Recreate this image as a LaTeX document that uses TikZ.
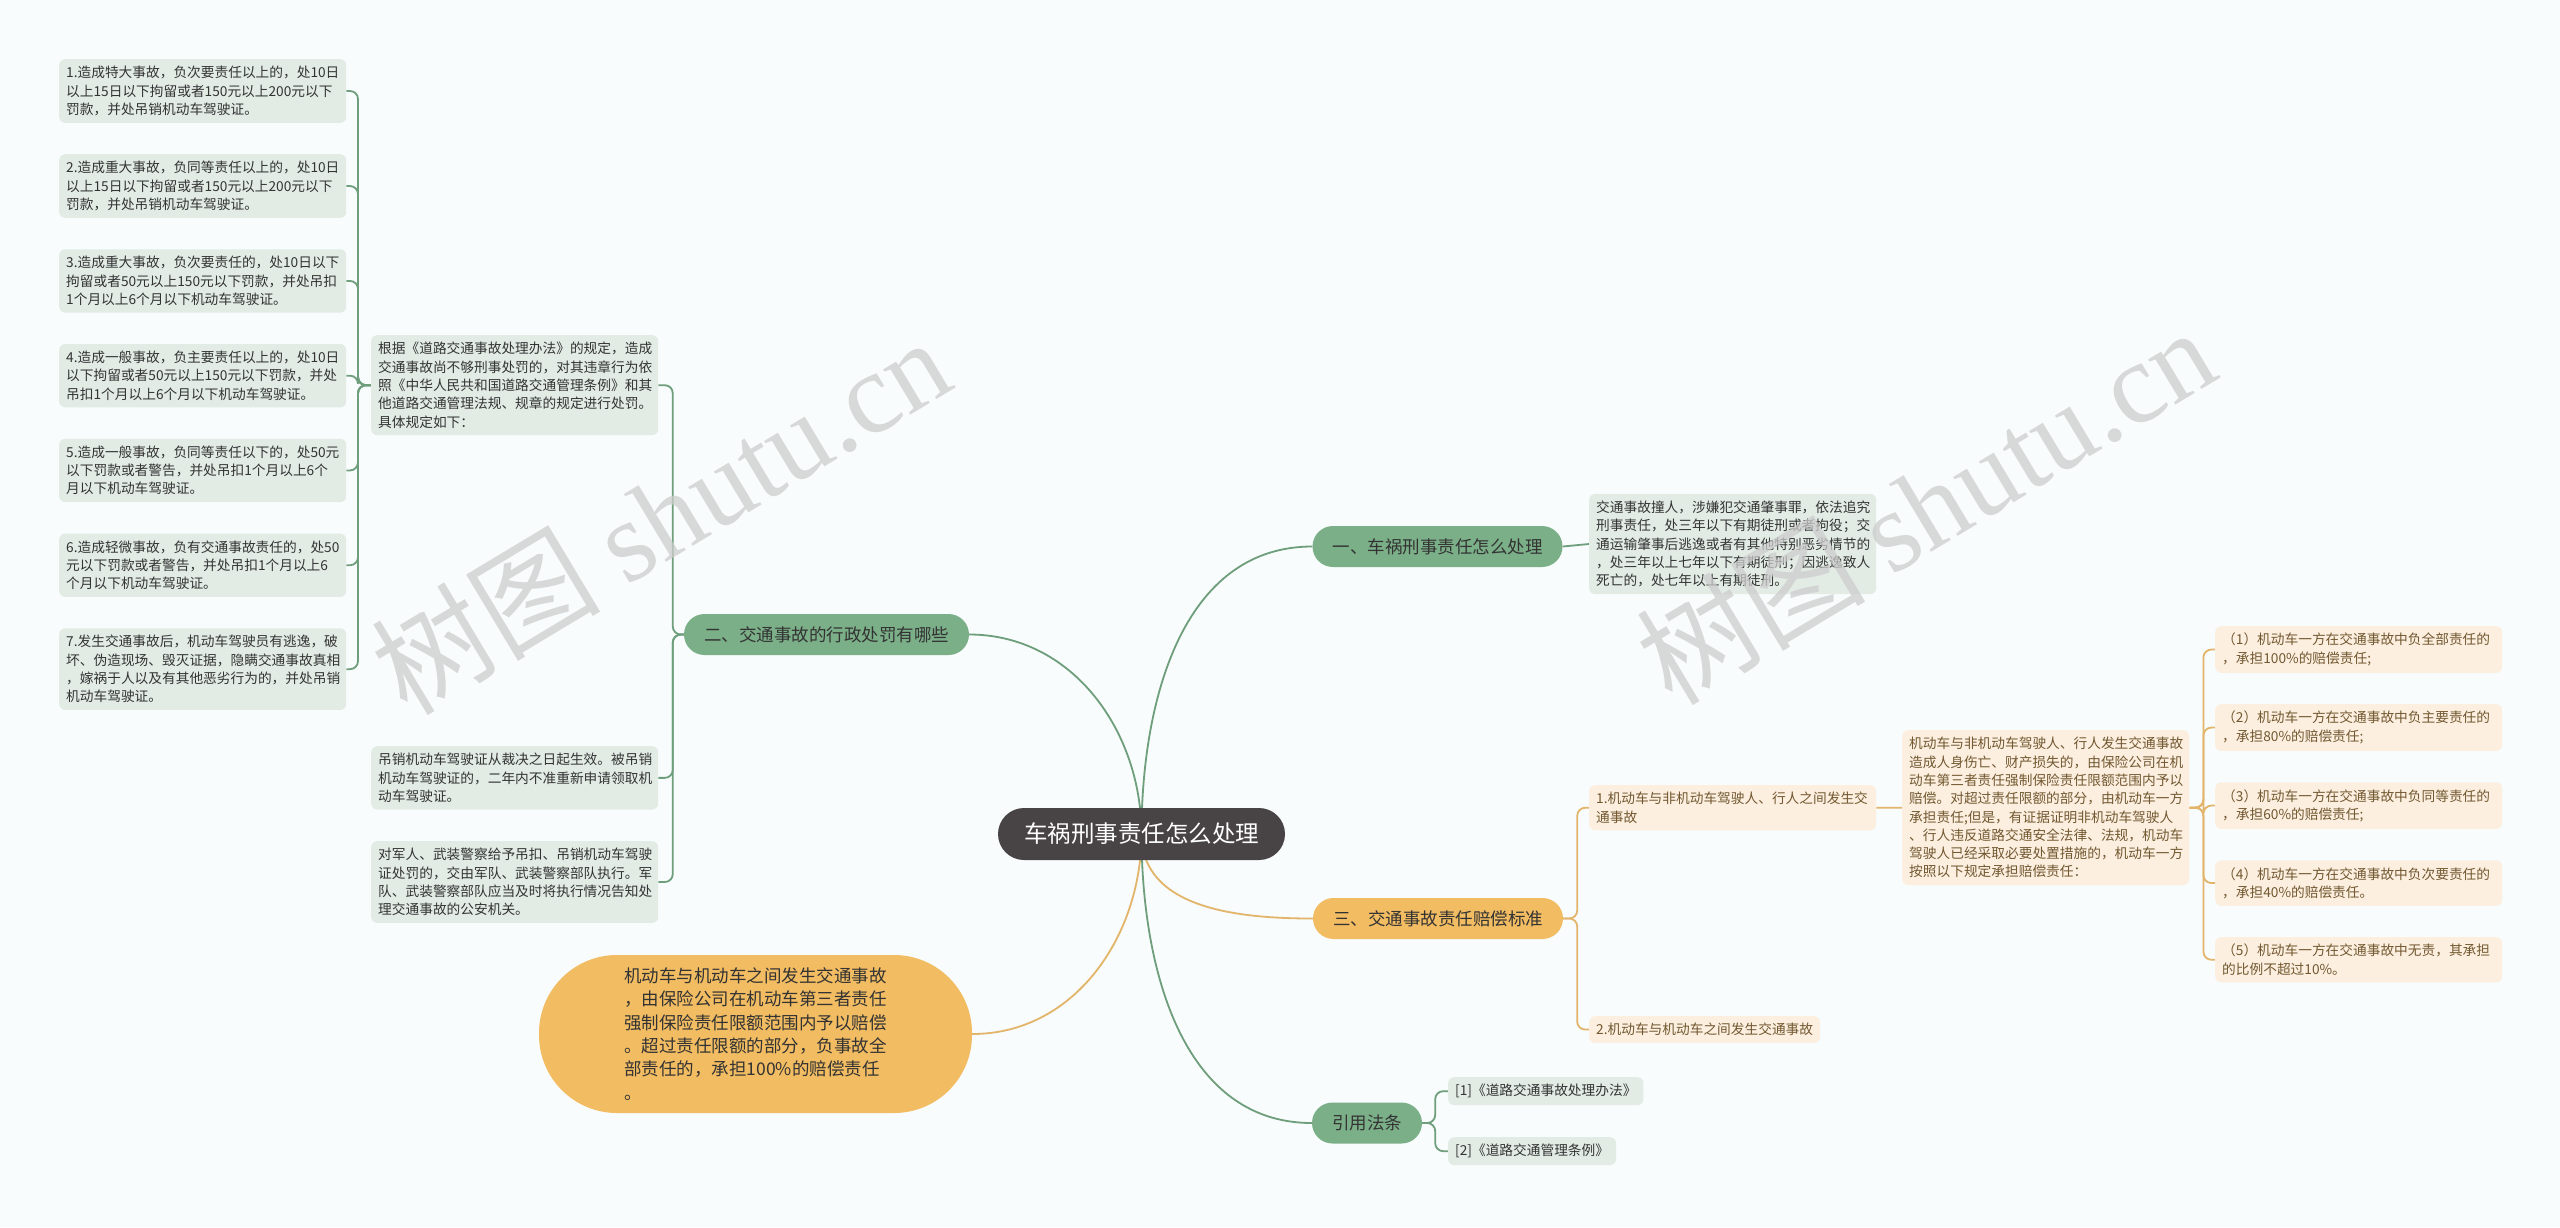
\documentclass[tikz,border=0pt]{standalone}
\usepackage{fontspec}
\setmainfont{Noto Sans CJK SC}
\newfontfamily\wmlatin{Liberation Serif}
\usetikzlibrary{positioning, backgrounds}
\definecolor{MapBg}{HTML}{F8FCFC}
\definecolor{MapRoot}{HTML}{484345}
\definecolor{MapGreen}{HTML}{7BAF88}
\definecolor{MapGreenLine}{HTML}{6E9E7B}
\definecolor{MapGreenNote}{HTML}{E2ECE5}
\definecolor{MapOrange}{HTML}{F2BC62}
\definecolor{MapOrangeLine}{HTML}{E2B56A}
\definecolor{MapOrangeNote}{HTML}{FCEFE0}
\definecolor{MapText}{HTML}{333333}
\definecolor{MapBrown}{HTML}{725830}

\begin{document}
\begin{tikzpicture}[x=1pt, y=-1pt,
    root/.style={fill=MapRoot, text=white, rounded corners=26pt, minimum height=52pt,
                 inner xsep=26pt, font=\fontsize{23.5}{28}\selectfont},
    branch/.style={rounded corners=20.5pt, minimum height=41pt, inner xsep=20pt,
                   text=MapText, font=\fontsize{17.5}{21}\selectfont},
    gbranch/.style={branch, fill=MapGreen},
    obranch/.style={branch, fill=MapOrange},
    tag/.style={rounded corners=6pt, align=left, inner xsep=7pt, inner ysep=7pt,
                font=\fontsize{13.7}{18.3}\selectfont},
    note/.style={tag, text width=273pt},
    gnote/.style={note, fill=MapGreenNote, text=MapText},
    onote/.style={note, fill=MapOrangeNote, text=MapBrown},
    gtag/.style={tag, fill=MapGreenNote, text=MapText},
    otag/.style={tag, fill=MapOrangeNote, text=MapBrown},
    glink/.style={draw=MapGreenLine, line width=1.8pt},
    olink/.style={draw=MapOrangeLine, line width=1.8pt},
    fork/.style={rounded corners=8pt},
    wmtext/.style={text=black!20, opacity=0.75, font=\fontsize{115}{118}\selectfont},
  ]
  \useasboundingbox (0,0) rectangle (2560,1227);

  \node[root] (root) at (1141.5,834) {车祸刑事责任怎么处理};
  \node[gbranch] (b1) at (1437.5,546.5) {一、车祸刑事责任怎么处理};
  \node[gbranch] (b2) at (826.5,634.5) {二、交通事故的行政处罚有哪些};
  \node[obranch] (b3) at (1438,918.5) {三、交通事故责任赔偿标准};
  \node[gbranch] (b4) at (1367,1123) {引用法条};

  \node[gnote, anchor=west] (n1) at (1589,544)
    {交通事故撞人，涉嫌犯交通肇事罪，依法追究\\刑事责任，处三年以下有期徒刑或者拘役；交\\通运输肇事后逃逸或者有其他特别恶劣情节的\\，处三年以上七年以下有期徒刑；因逃逸致人\\死亡的，处七年以上有期徒刑。};

  \node[gnote, anchor=north west] (gen) at (371,335)
    {根据《道路交通事故处理办法》的规定，造成\\交通事故尚不够刑事处罚的，对其违章行为依\\照《中华人民共和国道路交通管理条例》和其\\他道路交通管理法规、规章的规定进行处罚。\\具体规定如下：};
  \node[gnote, anchor=north west] (diao) at (371,746)
    {吊销机动车驾驶证从裁决之日起生效。被吊销\\机动车驾驶证的，二年内不准重新申请领取机\\动车驾驶证。};
  \node[gnote, anchor=north west] (jun) at (371,841)
    {对军人、武装警察给予吊扣、吊销机动车驾驶\\证处罚的，交由军队、武装警察部队执行。军\\队、武装警察部队应当及时将执行情况告知处\\理交通事故的公安机关。};

  \node[gnote, anchor=north west] (l1) at (59,59)
    {1.造成特大事故，负次要责任以上的，处10日\\以上15日以下拘留或者150元以上200元以下\\罚款，并处吊销机动车驾驶证。};
  \node[gnote, below=31pt of l1] (l2)
    {2.造成重大事故，负同等责任以上的，处10日\\以上15日以下拘留或者150元以上200元以下\\罚款，并处吊销机动车驾驶证。};
  \node[gnote, below=31pt of l2] (l3)
    {3.造成重大事故，负次要责任的，处10日以下\\拘留或者50元以上150元以下罚款，并处吊扣\\1个月以上6个月以下机动车驾驶证。};
  \node[gnote, below=31pt of l3] (l4)
    {4.造成一般事故，负主要责任以上的，处10日\\以下拘留或者50元以上150元以下罚款，并处\\吊扣1个月以上6个月以下机动车驾驶证。};
  \node[gnote, below=31pt of l4] (l5)
    {5.造成一般事故，负同等责任以下的，处50元\\以下罚款或者警告，并处吊扣1个月以上6个\\月以下机动车驾驶证。};
  \node[gnote, below=31pt of l5] (l6)
    {6.造成轻微事故，负有交通事故责任的，处50\\元以下罚款或者警告，并处吊扣1个月以上6\\个月以下机动车驾驶证。};
  \node[gnote, below=31pt of l6] (l7)
    {7.发生交通事故后，机动车驾驶员有逃逸，破\\坏、伪造现场、毁灭证据，隐瞒交通事故真相\\，嫁祸于人以及有其他恶劣行为的，并处吊销\\机动车驾驶证。};

  \node[onote, anchor=north west] (c1) at (1589,785)
    {1.机动车与非机动车驾驶人、行人之间发生交\\通事故};
  \node[otag, anchor=north west] (c2) at (1589,1016) {2.机动车与机动车之间发生交通事故};
  \node[onote, anchor=north west] (n3) at (1902,730)
    {机动车与非机动车驾驶人、行人发生交通事故\\造成人身伤亡、财产损失的，由保险公司在机\\动车第三者责任强制保险责任限额范围内予以\\赔偿。对超过责任限额的部分，由机动车一方\\承担责任;但是，有证据证明非机动车驾驶人\\、行人违反道路交通安全法律、法规，机动车\\驾驶人已经采取必要处置措施的，机动车一方\\按照以下规定承担赔偿责任：};

  \node[onote, anchor=north west] (r1) at (2215,626)
    {（1）机动车一方在交通事故中负全部责任的\\，承担100\%的赔偿责任;};
  \node[onote, below=31pt of r1] (r2)
    {（2）机动车一方在交通事故中负主要责任的\\，承担80\%的赔偿责任;};
  \node[onote, below=31pt of r2] (r3)
    {（3）机动车一方在交通事故中负同等责任的\\，承担60\%的赔偿责任;};
  \node[onote, below=31pt of r3] (r4)
    {（4）机动车一方在交通事故中负次要责任的\\，承担40\%的赔偿责任。};
  \node[onote, below=31pt of r4] (r5)
    {（5）机动车一方在交通事故中无责，其承担\\的比例不超过10\%。};

  \node[gtag, anchor=north west] (ref1) at (1448,1077) {[1]《道路交通事故处理办法》};
  \node[gtag, anchor=north west] (ref2) at (1448,1137) {[2]《道路交通管理条例》};

  \node[fill=MapOrange, text=MapText, rounded corners=78pt, minimum width=433pt,
        minimum height=158pt, align=left, font=\fontsize{17.5}{23.3}\selectfont]
    (mix) at (755.5,1034)
    {机动车与机动车之间发生交通事故\\，由保险公司在机动车第三者责任\\强制保险责任限额范围内予以赔偿\\。超过责任限额的部分，负事故全\\部责任的，承担100\%的赔偿责任\\。};

  \begin{scope}[on background layer]
    \fill[MapBg] (0,0) rectangle (2560,1227);
    \draw[glink] (root.center) to[out=90, in=180] (b1.west);
    \draw[glink] (root.center) to[out=90, in=0] (b2.east);
    \draw[olink] (root.center) to[out=-90, in=180] (b3.west);
    \draw[glink] (root.center) to[out=-90, in=180] (b4.west);
    \draw[olink] (root.center) to[out=-90, in=0] (mix.east);
    \draw[glink] (b1.east) -- (n1.west);
    \foreach \n in {gen,diao,jun}
      \draw[glink, fork] (b2.west) -- ++(-11,0) |- (\n.east);
    \foreach \n in {1,...,7}
      \draw[glink, fork] (gen.west) -- ++(-13,0) |- (l\n.east);
    \foreach \n in {c1,c2}
      \draw[olink, fork] (b3.east) -- ++(14,0) |- (\n.west);
    \draw[olink] (c1.east) -- (n3.west);
    \foreach \n in {1,...,5}
      \draw[olink, fork] (n3.east) -- ++(14,0) |- (r\n.west);
    \foreach \n in {1,2}
      \draw[glink, fork] (b4.east) -- ++(13,0) |- (ref\n.west);
  \end{scope}

  \node[wmtext, rotate=31] (wm1) at (660,515) {树图 {\wmlatin shutu.cn}};
  \node[wmtext, rotate=31] (wm2) at (1925,505) {树图 {\wmlatin shutu.cn}};
\end{tikzpicture}
\end{document}
